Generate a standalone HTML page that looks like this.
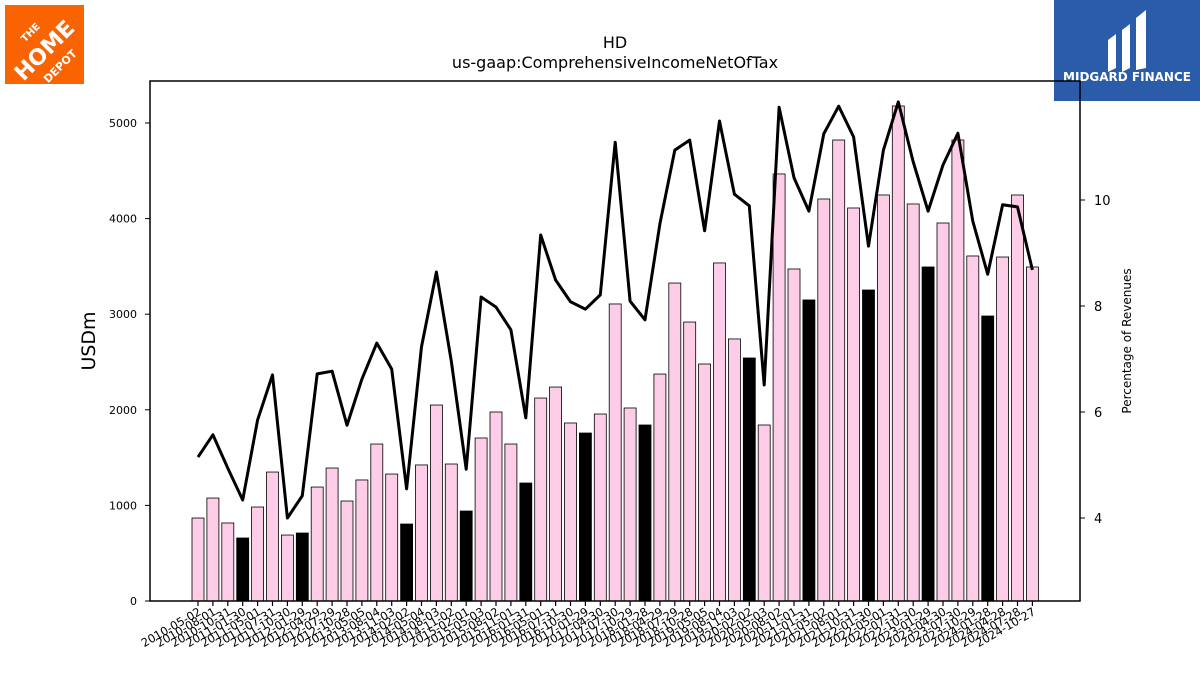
<!DOCTYPE html>
<html><head><meta charset="utf-8"><style>
body{margin:0;background:#fff;font-family:"Liberation Sans","DejaVu Sans",sans-serif}
svg text{font-family:"DejaVu Sans","Liberation Sans",sans-serif}
</style></head><body>
<svg id="c" width="1200" height="675" xmlns="http://www.w3.org/2000/svg">
<g>
<rect x="5" y="5" width="79" height="79" fill="#f96302"/>
<text x="44" y="58" transform="rotate(-45 44 50)" font-size="22" font-weight="bold" fill="#fff" text-anchor="middle">HOME</text>
<text x="30" y="36" transform="rotate(-45 30 32)" font-size="10" font-weight="bold" fill="#fff" text-anchor="middle">THE</text>
<text x="60" y="70" transform="rotate(-45 60 66)" font-size="11" font-weight="bold" fill="#fff" text-anchor="middle">DEPOT</text>
</g>
<g>
<rect x="1054" y="0" width="146" height="101" fill="#2a5caa"/>
<path d="M1108 40 l8 -6 v34 l-8 4z M1122 30 l8 -6 v44 l-8 4z M1136 18 l10 -8 v58 l-10 2z" fill="#fff"/>
<text x="1127" y="81" font-size="12" font-weight="bold" fill="#fff" text-anchor="middle">MIDGARD FINANCE</text>
</g>
<text x="615" y="48" font-size="16" text-anchor="middle">HD</text>
<text x="615" y="68" font-size="16" text-anchor="middle">us-gaap:ComprehensiveIncomeNetOfTax</text>
<g id="plot"></g>
<rect x="150" y="81" width="930" height="520" fill="none" stroke="#000" stroke-width="1.5"/>
<text transform="translate(95 341) rotate(-90)" font-size="19" text-anchor="middle">USDm</text>
<text transform="translate(1131 341) rotate(-90)" font-size="12" text-anchor="middle">Percentage of Revenues</text>
</svg>
<script>
const categories=["2010-05-02","2010-08-01","2010-10-31","2011-01-30","2011-05-01","2011-07-31","2011-10-30","2012-01-29","2012-04-29","2012-07-29","2012-10-28","2013-05-05","2013-08-04","2013-11-03","2014-02-02","2014-05-04","2014-08-03","2014-11-02","2015-02-01","2015-05-03","2015-08-02","2015-11-01","2016-01-31","2016-05-01","2016-07-31","2016-10-30","2017-01-29","2017-04-30","2017-07-30","2017-10-29","2018-01-28","2018-04-29","2018-07-29","2018-10-28","2019-05-05","2019-08-04","2019-11-03","2020-02-02","2020-05-03","2020-08-02","2020-11-01","2021-01-31","2021-05-02","2021-08-01","2021-10-31","2022-01-30","2022-05-01","2022-07-31","2022-10-30","2023-01-29","2023-04-30","2023-07-30","2023-10-29","2024-01-28","2024-04-28","2024-07-28","2024-10-27"];
const income=[868,1077,816,659,983,1349,690,711,1192,1391,1046,1266,1642,1328,805,1423,2050,1433,941,1705,1977,1642,1234,2123,2238,1862,1757,1956,3107,2019,1841,2374,3326,2918,2479,3536,2741,2542,1841,4467,3473,3149,4205,4822,4111,3253,4247,5178,4153,3494,3954,4822,3609,2981,3598,4247,3494];
const pct=[5.15,5.57,4.94,4.34,5.85,6.70,4.00,4.42,6.72,6.77,5.75,6.62,7.30,6.81,4.55,7.23,8.64,6.96,4.92,8.17,7.98,7.55,5.89,9.34,8.49,8.08,7.94,8.21,11.09,8.09,7.74,9.55,10.94,11.13,9.42,11.49,10.11,9.89,6.51,11.75,10.42,9.79,11.25,11.77,11.19,9.13,10.94,11.85,10.72,9.79,10.66,11.26,9.60,8.60,9.91,9.87,8.68];
const yTicks=[0,1000,2000,3000,4000,5000];
const y2Ticks=[4,6,8,10];
const NS="http://www.w3.org/2000/svg";
const g=document.getElementById('plot');
const x=i=>198+i*14.9;
const y=v=>601-v*0.0956;
const y2=v=>518-(v-4)*53;
function mk(t,a){const e=document.createElementNS(NS,t);for(const k in a)e.setAttribute(k,a[k]);g.appendChild(e);return e;}
categories.forEach((c,i)=>{
 const black=c.slice(5,7)==="01"||c.slice(5,7)==="02";
 const r=mk('rect',{x:x(i)-6,y:y(income[i]),width:12,height:601-y(income[i]),fill:black?'#000':'#fdcce6',stroke:'#000','stroke-width':0.8});
 
 
 const t=mk('line',{x1:x(i),x2:x(i),y1:601,y2:606,stroke:'#000','stroke-width':1.2});
 
 
 const l=mk('text',{transform:`translate(${x(i)+4} ${614}) rotate(-30)`,'font-size':11.5,'text-anchor':'end'});
 l.textContent=c;
 
 
});
yTicks.forEach(v=>{
 const t=mk('line',{x1:145,x2:150,y1:y(v),y2:y(v),stroke:'#000'});
 
 
 const l=mk('text',{x:137,y:y(v)+4,'font-size':11,'text-anchor':'end'});
 l.textContent=v;
 
 
});
y2Ticks.forEach(v=>{
 const t=mk('line',{x1:1080,x2:1085,y1:y2(v),y2:y2(v),stroke:'#000'});
 
 
 const l=mk('text',{x:1094,y:y2(v)+5,'font-size':13});
 l.textContent=v;
 
 
});
const p=mk('polyline',{points:pct.map((v,i)=>x(i)+','+y2(v)).join(' '),fill:'none',stroke:'#000','stroke-width':3,'stroke-linejoin':'round'});


</script>
</body></html>
